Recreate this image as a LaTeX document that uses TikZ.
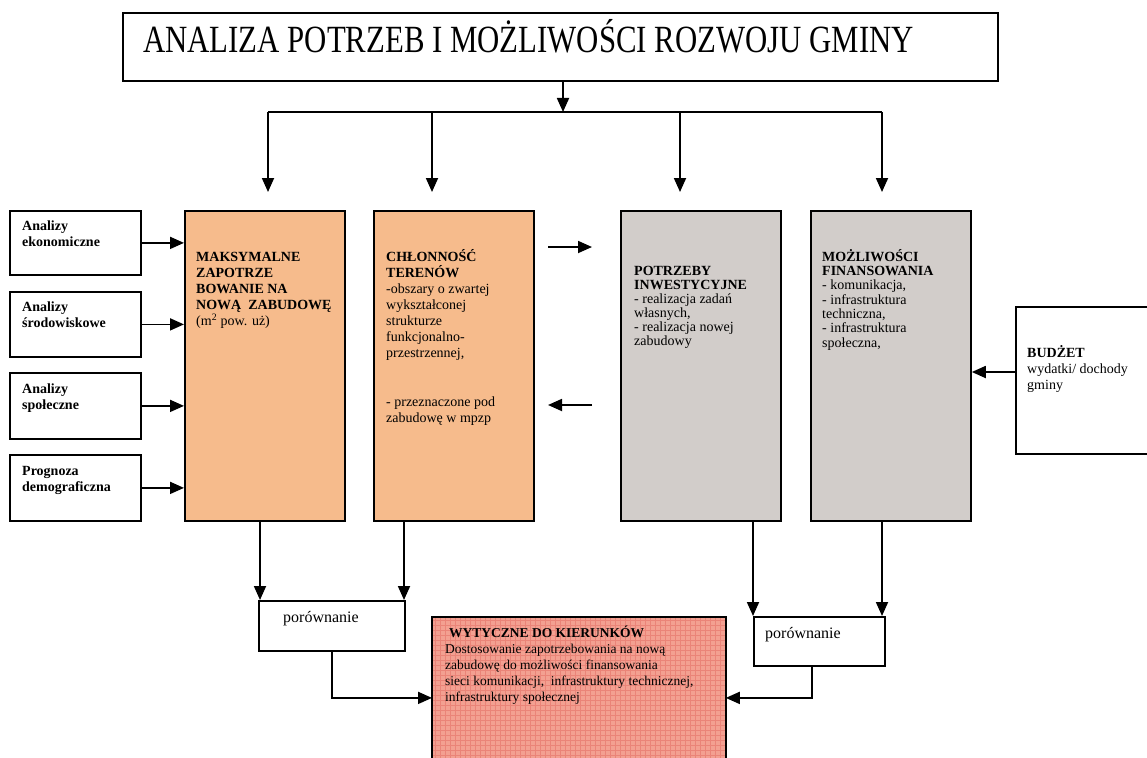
\documentclass[tikz,border=0pt]{standalone}
\usepackage{fontspec}
\setmainfont{Liberation Serif}
\newfontfamily\titlefont[FakeStretch=0.8]{Liberation Serif}
\usetikzlibrary{arrows.meta}
\definecolor{orangebox}{RGB}{246,187,140}
\definecolor{graybox}{RGB}{210,205,202}
\definecolor{redbox}{RGB}{243,160,145}
\definecolor{redgrid}{RGB}{234,132,120}
\newcommand\topstrut{\rule{0pt}{14pt}}
\begin{document}
\begin{tikzpicture}[x=1pt,y=-1pt,
  box/.style={draw,line width=1.8pt,inner sep=0pt,anchor=north west},
  txt/.style={anchor=north west,inner sep=0pt,align=left,font=\fontsize{14}{16.1}\selectfont},
  arr/.style={line width=1.8pt,-{Triangle[length=14pt,width=12pt]}},
  ln/.style={line width=1.8pt}]
\useasboundingbox (0,0) rectangle (1147,757);
\fill[white] (0,0) rectangle (1147,757);

% title
\node[box,minimum width=875pt,minimum height=68pt] (title) at (122,12) {};
\node[anchor=base west,inner sep=0pt,font=\titlefont\fontsize{38.5}{42}\selectfont] (titletxt) at (143,53) {ANALIZA POTRZEB I MOŻLIWOŚCI ROZWOJU GMINY};

% left input boxes
\node[box,minimum width=131pt,minimum height=64pt] (e1) at (9,210) {};
\node[box,minimum width=131pt,minimum height=65pt] (e2) at (9,291) {};
\node[box,minimum width=131pt,minimum height=66pt] (e3) at (9,372) {};
\node[box,minimum width=131pt,minimum height=66pt] (e4) at (9,454) {};
\node[txt] (e1t) at (22,216) {\topstrut\textbf{Analizy}\\\textbf{ekonomiczne}};
\node[txt] (e2t) at (22,297) {\topstrut\textbf{Analizy}\\\textbf{środowiskowe}};
\node[txt] (e3t) at (22,379) {\topstrut\textbf{Analizy}\\\textbf{społeczne}};
\node[txt] (e4t) at (22,461) {\topstrut\textbf{Prognoza}\\\textbf{demograficzna}};

% main boxes
\node[box,fill=orangebox,minimum width=160pt,minimum height=310pt] (maks) at (184,210) {};
\node[box,fill=orangebox,minimum width=160pt,minimum height=310pt] (chl) at (373,210) {};
\node[box,fill=graybox,minimum width=160pt,minimum height=310pt] (potr) at (620,210) {};
\node[box,fill=graybox,minimum width=160pt,minimum height=310pt] (mozl) at (810,210) {};

\node[txt] (makst) at (196,247) {\topstrut\textbf{MAKSYMALNE}\\\textbf{ZAPOTRZE}\\\textbf{BOWANIE NA}\\\textbf{NOWĄ\ \ ZABUDOWĘ}\\(m\textsuperscript{2} pow. uż)};
\node[txt] (chlt) at (386,247) {\topstrut\textbf{CHŁONNOŚĆ}\\\textbf{TERENÓW}\\-obszary o zwartej\\wykształconej\\strukturze\\funkcjonalno-\\przestrzennej,\\[32.2pt]- przeznaczone pod\\zabudowę w mpzp};
\node[txt,font=\fontsize{14}{14}\selectfont] (potrt) at (634,261) {\topstrut\textbf{POTRZEBY}\\\textbf{INWESTYCYJNE}\\- realizacja zadań\\własnych,\\- realizacja nowej\\zabudowy};
\node[txt,font=\fontsize{14}{14.3}\selectfont] (mozlt) at (822,247) {\topstrut\textbf{MOŻLIWOŚCI}\\\textbf{FINANSOWANIA}\\- komunikacja,\\- infrastruktura\\techniczna,\\- infrastruktura\\społeczna,};

% budget
\node[box,minimum width=150pt,minimum height=147pt] (bud) at (1015,306) {};
\node[txt] (budt) at (1027,343) {\topstrut\textbf{BUDŻET}\\wydatki/ dochody\\gminy};

% comparison boxes
\node[box,minimum width=146pt,minimum height=50pt] (por1) at (258,600) {};
\node[anchor=base west,inner sep=0pt,font=\fontsize{16}{18}\selectfont] (por1t) at (283,622) {porównanie};
\node[box,minimum width=131pt,minimum height=49pt] (por2) at (753,616) {};
\node[anchor=base west,inner sep=0pt,font=\fontsize{16}{18}\selectfont] (por2t) at (765,638) {porównanie};

% guidelines box
\node[box,draw=none,fill=redbox,minimum width=292pt,minimum height=160pt] (wyt) at (432,617) {};
\begin{scope}
\clip (wyt.north west) rectangle (wyt.south east);
\draw[redgrid,line width=0.5pt,step=5pt] (wyt.south west) grid (wyt.north east);
\end{scope}
\draw[ln] (wyt.north west) rectangle (wyt.south east);
\node[txt,font=\fontsize{13.5}{16.1}\selectfont] (wytt) at (445,623) {\topstrut\hspace{4pt}\textbf{WYTYCZNE DO KIERUNKÓW}\\Dostosowanie zapotrzebowania na nową\\zabudowę do możliwości finansowania\\sieci komunikacji,\ \ infrastruktury technicznej,\\infrastruktury społecznej};

% top distribution
\coordinate (tb) at (563,112);
\coordinate (d1) at (268,112);
\coordinate (d2) at (432,112);
\coordinate (d3) at (680,112);
\coordinate (d4) at (882,112);
\draw[arr] (tb |- title.south) -- (tb);
\draw[ln] (d1) -- (d4);
\draw[arr] (d1) -- ++(0,80);
\draw[arr] (d2) -- ++(0,80);
\draw[arr] (d3) -- ++(0,80);
\draw[arr] (d4) -- ++(0,80);

% inputs into maks
\draw[arr] (e1.east) -- (e1.east -| maks.west);
\draw[arr] (e2.east) -- (e2.east -| maks.west);
\draw[arr] (e3.east) -- (e3.east -| maks.west);
\draw[arr] (e4.east) -- (e4.east -| maks.west);

% between chl and potr
\coordinate (ra1) at (548,247);
\coordinate (ra2) at (592,247);
\coordinate (la1) at (592,405);
\coordinate (la2) at (548,405);
\draw[arr] (ra1) -- (ra2);
\draw[arr] (la1) -- (la2);

% budget into mozl
\coordinate (bb) at (1015,372);
\draw[arr] (bb) -- (bb -| mozl.east);

% down to comparisons
\coordinate (m1) at (260,520);
\coordinate (m2) at (404,520);
\coordinate (m3) at (753,520);
\coordinate (m4) at (882,520);
\draw[arr] (m1) -- (m1 |- por1.north);
\draw[arr] (m2) -- (m2 |- por1.north);
\draw[arr] (m3) -- (m3 |- por2.north);
\draw[arr] (m4) -- (m4 |- por2.north);

% comparisons into guidelines
\coordinate (p2) at (812,665);
\draw[arr] (por1.south) |- (wyt.west);
\draw[arr] (p2) |- (wyt.east);
\end{tikzpicture}
\end{document}
